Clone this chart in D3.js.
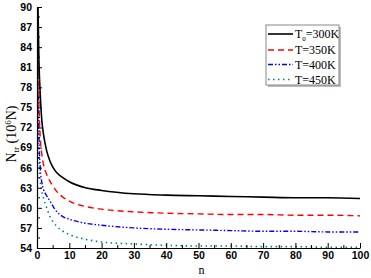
<!DOCTYPE html>
<html>
<head>
<meta charset="utf-8">
<script src="https://cdn.jsdelivr.net/npm/d3@7"></script>
<style>
  body { margin: 0; background: #fff; }
  .tick text { font-family: Arial, "Liberation Sans", sans-serif; font-weight: bold; font-size: 10.5px; }
</style>
</head>
<body>
<div id="chart"></div>
<script>
// data
const nVals = [0.3, 0.6, 1, 1.5, 2, 3, 4, 5, 6, 8, 10, 15, 20, 30, 40, 50, 60, 70, 80, 90, 100];
const t300 = [90, 82, 77, 73, 71, 68.5, 67, 66, 65.3, 64.5, 63.9, 63.0, 62.6, 62.1, 61.9, 61.8, 61.7, 61.6, 61.5, 61.5, 61.4];
const t350 = [85, 76, 70.5, 68, 66.5, 65, 64, 63.2, 62.5, 61.6, 61.0, 60.2, 59.8, 59.4, 59.2, 59.1, 59.0, 59.0, 58.9, 58.9, 58.8];
const t400 = [81, 71, 66, 63.8, 62.8, 61.8, 61.0, 60.2, 59.5, 58.7, 58.3, 57.7, 57.4, 57.0, 56.8, 56.7, 56.6, 56.5, 56.5, 56.4, 56.4];
const t450 = [75, 67, 64, 62.5, 61.5, 60, 58.7, 57.9, 57.3, 56.5, 56.0, 55.3, 54.9, 54.6, 54.4, 54.3, 54.3, 54.2, 54.2, 54.1, 54.1];
const yTicks = d3.range(54, 91, 3);
const xTicks = d3.range(0, 101, 10);

const series = [
  {label: "300", sub: true, values: t300, color: "#000000", dash: null, width: 1.6},
  {label: "T=350K", values: t350, color: "#ff0000", dash: "6,4", width: 1.4},
  {label: "T=400K", values: t400, color: "#0000ff", dash: "5,2,1.5,2,1.5,2", width: 1.4},
  {label: "T=450K", values: t450, color: "#008080", dash: "1.5,3.5", width: 1.6}
];

const width = 371, height = 278;
const margin = {top: 7, right: 11, bottom: 30, left: 37};

const svg = d3.select("#chart").append("svg")
  .attr("width", width)
  .attr("height", height);

const x = d3.scaleLinear().domain([0, 100]).range([margin.left, width - margin.right]);
const y = d3.scaleLinear().domain([54, 90]).range([height - margin.bottom, margin.top]);

// clip so the steep start stays inside the plot
svg.append("clipPath").attr("id", "clip")
  .append("rect")
  .attr("x", margin.left).attr("y", margin.top)
  .attr("width", x(100) - margin.left).attr("height", y(54) - margin.top);

// curves
const line = d3.line()
  .x((d, i) => x(nVals[i]))
  .y(d => y(d))
  .curve(d3.curveMonotoneX);

const lines = svg.append("g").attr("clip-path", "url(#clip)");
series.slice().reverse().forEach(s => {
  lines.append("path")
    .attr("d", line(s.values))
    .attr("fill", "none")
    .attr("stroke", s.color)
    .attr("stroke-width", s.width)
    .attr("stroke-dasharray", s.dash);
});

// axes, ticks pointing inward
const xAxis = svg.append("g")
  .attr("transform", "translate(0," + y(54) + ")")
  .call(d3.axisBottom(x).tickValues(xTicks).tickSizeInner(-5).tickSizeOuter(0).tickPadding(4));
xAxis.append("g").selectAll("line")
  .data(d3.range(5, 100, 10))
  .enter().append("line")
  .attr("x1", d => x(d)).attr("x2", d => x(d))
  .attr("y1", 0).attr("y2", -3)
  .attr("stroke", "#000");

const yAxis = svg.append("g")
  .attr("transform", "translate(" + x(0) + ",0)")
  .call(d3.axisLeft(y).tickValues(yTicks).tickSizeInner(-5).tickSizeOuter(0).tickPadding(5));
yAxis.append("g").selectAll("line")
  .data(d3.range(55.5, 90, 3))
  .enter().append("line")
  .attr("y1", d => y(d)).attr("y2", d => y(d))
  .attr("x1", 0).attr("x2", 3)
  .attr("stroke", "#000");

svg.selectAll(".domain").attr("stroke", "#000").attr("stroke-width", 1.2);

// axis titles
svg.append("text")
  .attr("x", (x(0) + x(100)) / 2 + 3)
  .attr("y", 274)
  .attr("text-anchor", "middle")
  .style("font-family", "'Liberation Serif', 'Times New Roman', serif")
  .style("font-size", "12px")
  .text("n");

const yTitle = svg.append("text")
  .attr("transform", "translate(16," + 134 + ") rotate(-90)")
  .attr("text-anchor", "middle")
  .style("font-family", "'Liberation Serif', 'Times New Roman', serif")
  .style("font-size", "14px");
yTitle.append("tspan").text("N");
yTitle.append("tspan").attr("dy", 3).style("font-size", "9px").text("tr");
yTitle.append("tspan").attr("dy", -3).text(" (10");
yTitle.append("tspan").attr("dy", -5).style("font-size", "9px").text("6");
yTitle.append("tspan").attr("dy", 5).text("N)");

// legend
const legend = svg.append("g");
legend.append("rect")
  .attr("x", 268).attr("y", 27).attr("width", 73).attr("height", 60)
  .attr("fill", "#bbb");
legend.append("rect")
  .attr("x", 266).attr("y", 25).attr("width", 73).attr("height", 60)
  .attr("fill", "#fff").attr("stroke", "#888").attr("stroke-width", 1);

const rowY = [34, 50, 64.5, 79.5];
series.forEach((s, i) => {
  legend.append("line")
    .attr("x1", 268).attr("x2", 293)
    .attr("y1", rowY[i]).attr("y2", rowY[i])
    .attr("stroke", s.color)
    .attr("stroke-width", s.width)
    .attr("stroke-dasharray", s.dash);
  const t = legend.append("text")
    .attr("x", 295).attr("y", rowY[i] + 4)
    .style("font-family", "'Liberation Serif', 'Times New Roman', serif")
    .style("font-size", "12px");
  if (s.sub) {
    t.append("tspan").text("T");
    t.append("tspan").attr("dy", 3).style("font-size", "7px").text("0");
    t.append("tspan").attr("dy", -3).text("=300K");
  } else {
    t.text(s.label);
  }
});
</script>
</body>
</html>
